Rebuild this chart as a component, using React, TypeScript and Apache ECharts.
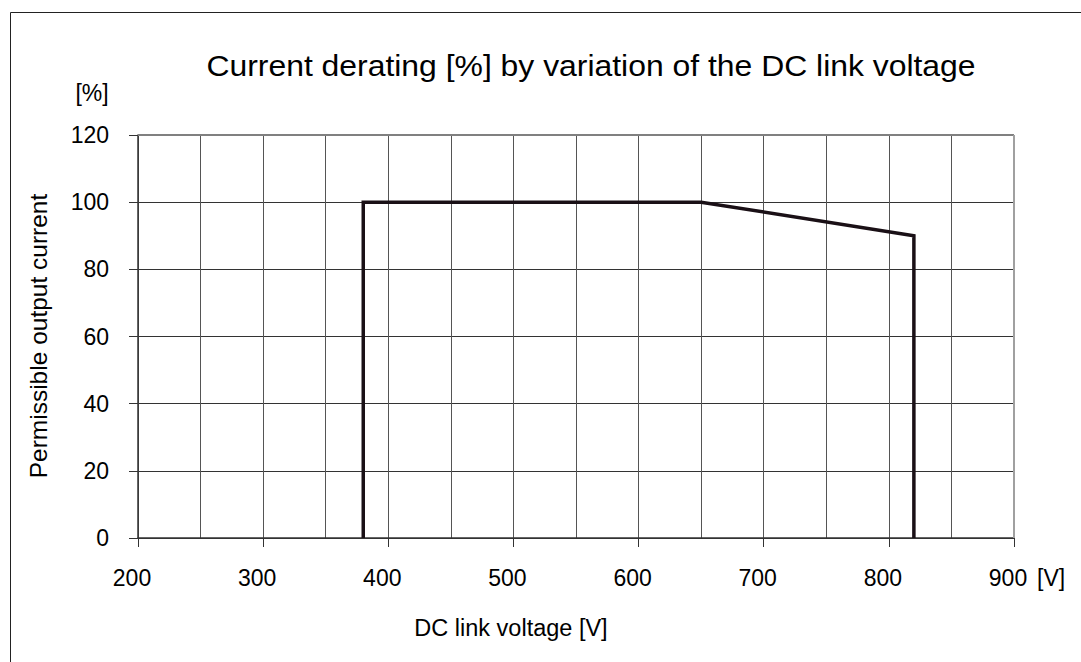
import React, { useEffect, useRef } from "react";
import * as echarts from "echarts";

const voltage = [380, 380, 650, 820, 820];
const current = [0, 100, 100, 90, 0];
const xTicks = [200, 300, 400, 500, 600, 700, 800, 900];
const yTicks = [0, 20, 40, 60, 80, 100, 120];

const FONT = "'Liberation Sans', Arial, sans-serif";

export default function App() {
  const ref = useRef<HTMLDivElement>(null);
  useEffect(() => {
    if (!ref.current) return;
    const chart = echarts.init(ref.current, null, { renderer: "svg" });
    chart.setOption({
      animation: false,
      backgroundColor: "#ffffff",
      textStyle: { fontFamily: FONT },
      grid: { left: 138, right: 67, top: 135, bottom: 124 },
      xAxis: {
        type: "value",
        min: xTicks[0],
        max: xTicks[xTicks.length - 1],
        interval: 100,
        axisLine: { show: true, lineStyle: { color: "#333", width: 1.5 } },
        axisTick: { show: true, inside: false, length: 9, lineStyle: { color: "#333" } },
        axisLabel: {
          margin: 28,
          fontSize: 23,
          color: "#000",
          fontFamily: FONT,
          padding: [0, 12, 0, 0],
        },
        splitLine: { show: true, lineStyle: { color: "#555", width: 1 } },
        minorTick: { show: false, splitNumber: 2 },
        minorSplitLine: { show: true, lineStyle: { color: "#555", width: 1 } },
      },
      yAxis: {
        type: "value",
        min: yTicks[0],
        max: yTicks[yTicks.length - 1],
        interval: 20,
        axisLine: { show: true, lineStyle: { color: "#333", width: 1.5 } },
        axisTick: { show: true, inside: false, length: 9, lineStyle: { color: "#333" } },
        axisLabel: { margin: 29, fontSize: 23, color: "#000", fontFamily: FONT },
        splitLine: { show: true, lineStyle: { color: "#333", width: 1 } },
      },
      graphic: [
        {
          type: "rect",
          shape: { x: 10.5, y: 12.5, width: 1200, height: 800 },
          style: { fill: "none", stroke: "#222", lineWidth: 1 },
          silent: true,
        },
        {
          type: "line",
          shape: { x1: 138, y1: 135, x2: 1014, y2: 135 },
          style: { stroke: "#808080", lineWidth: 2 },
          z: 5,
        },
        {
          type: "line",
          shape: { x1: 1014, y1: 135, x2: 1014, y2: 538 },
          style: { stroke: "#a0a0a0", lineWidth: 2 },
          z: 5,
        },
        {
          type: "text",
          x: 591,
          y: 66,
          scaleX: 1.1,
          style: {
            text: "Current derating [%] by variation of the DC link voltage",
            fontSize: 29,
            fontFamily: FONT,
            fill: "#000",
            textAlign: "center",
            textVerticalAlign: "middle",
          },
        },
        {
          type: "text",
          x: 92,
          y: 93,
          style: {
            text: "[%]",
            fontSize: 23,
            fontFamily: FONT,
            fill: "#000",
            textAlign: "center",
            textVerticalAlign: "middle",
          },
        },
        {
          type: "text",
          x: 38,
          y: 336,
          rotation: Math.PI / 2,
          style: {
            text: "Permissible output current",
            fontSize: 24.5,
            fontFamily: FONT,
            fill: "#000",
            textAlign: "center",
            textVerticalAlign: "middle",
          },
        },
        {
          type: "text",
          x: 511,
          y: 628,
          style: {
            text: "DC link voltage [V]",
            fontSize: 23.5,
            fontFamily: FONT,
            fill: "#000",
            textAlign: "center",
            textVerticalAlign: "middle",
          },
        },
        {
          type: "text",
          x: 1037,
          y: 578,
          style: {
            text: "[V]",
            fontSize: 23,
            fontFamily: FONT,
            fill: "#000",
            textAlign: "left",
            textVerticalAlign: "middle",
          },
        },
      ],
      series: [
        {
          type: "line",
          data: voltage.map((v, i) => [v, current[i]]),
          showSymbol: false,
          lineStyle: { color: "#1a1016", width: 3.5, join: "miter" },
          z: 10,
        },
      ],
    });
    return () => chart.dispose();
  }, []);
  return (
    <div
      ref={ref}
      style={{ position: "fixed", left: 0, top: 0, width: 1081, height: 662, background: "#fff" }}
    />
  );
}
